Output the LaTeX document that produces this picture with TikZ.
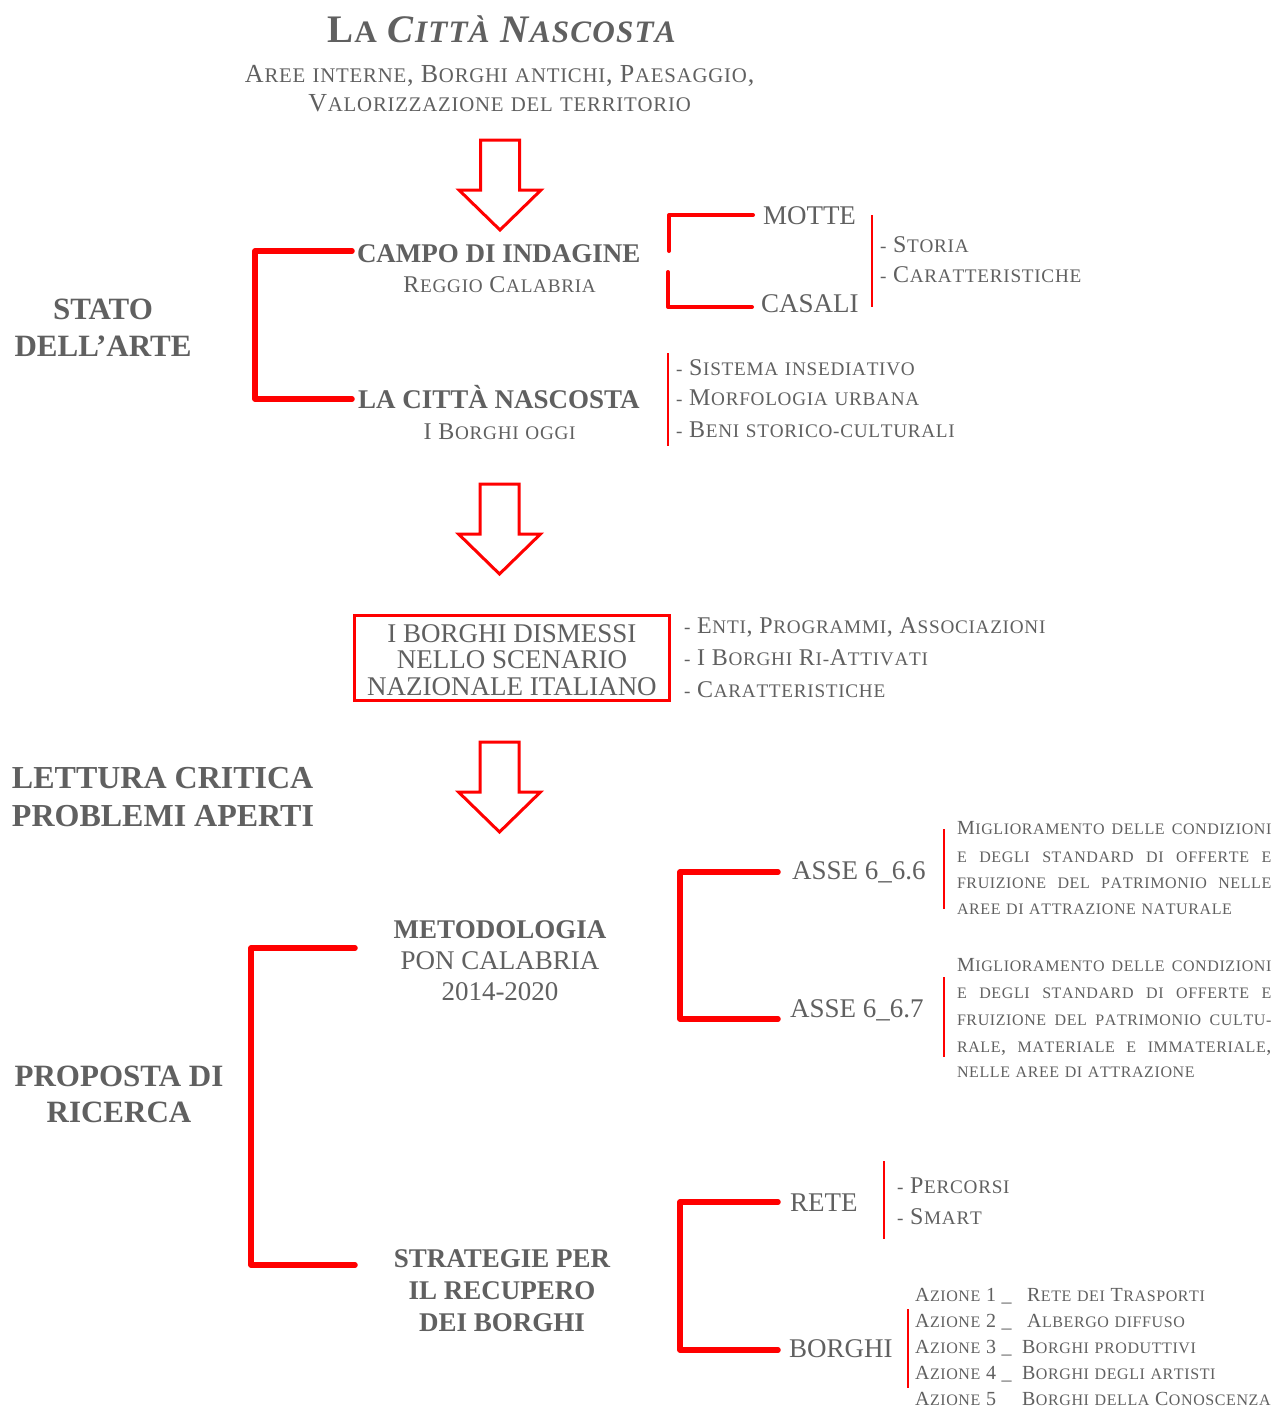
\documentclass[tikz,border=0pt]{standalone}
\usepackage{fontspec}
\setmainfont{Liberation Serif}
\definecolor{tg}{RGB}{96,96,96}
\definecolor{br}{RGB}{255,0,0}
\makeatletter
\def\fsc@end{FSC@END}
\newcommand\fsctrack{0.03em}
\newcommand\fsc[1]{\begingroup\edef\fsc@sz{\strip@pt\dimexpr\f@size pt*80/100\relax}\fsc@loop#1\fsc@end\endgroup}
\newcommand\fsc@loop{\futurelet\fsc@next\fsc@check}
\newcommand\fsc@check{\ifx\fsc@next\fsc@end\let\fsc@do\@gobble\else\ifx\fsc@next\@sptoken\let\fsc@do\fsc@space\else\let\fsc@do\fsc@char\fi\fi\fsc@do}
\@firstofone{\def\fsc@space} {\ \fsc@loop}
\newcommand\fsc@char[1]{\ifnum\lccode`#1=`#1\relax\ifnum\uccode`#1=`#1\relax#1\else{\fontsize{\fsc@sz}{\fsc@sz}\selectfont\uppercase{#1}}\fi\else#1\fi\kern\fsctrack\fsc@loop}
\makeatother
\tikzset{
 every node/.style={inner sep=0pt, outer sep=0pt, text=tg},
 boldhd/.style={font=\fontsize{27}{27}\selectfont\bfseries},
 bighd/.style={font=\fontsize{31}{31}\selectfont\bfseries},
 reghd/.style={font=\fontsize{27}{27}\selectfont},
 scm/.style={font=\fontsize{24}{24}\selectfont},
 scl/.style={font=\fontsize{26}{26}\selectfont},
 scs/.style={font=\fontsize{20}{20}\selectfont},
 bigbr/.style={draw=br, line width=5.5pt, line cap=round, line join=round},
 midbr/.style={draw=br, line width=4pt, line cap=round, line join=round},
 thinbr/.style={draw=br, line width=2.6pt},
 hollowline/.style={draw=br, line width=3pt, fill=white, line join=miter},
 hollow/.pic={\path[hollowline] (-19.5,0) -- (19.5,0) -- (19.5,50) -- (41,50) -- (0,90) -- (-41,50) -- (-19.5,50) -- cycle;},
}
\begin{document}
\begin{tikzpicture}[x=1pt,y=-1pt]
\useasboundingbox[fill=white] (0,0) rectangle (1277,1409);

% title
\node[anchor=base, font=\fontsize{39}{39}\selectfont\bfseries] (title) at (502,42) {\fsc{La} {\itshape\fsc{Città Nascosta}}};
\node[anchor=base, scl] (sub1) at (500,82) {\fsc{Aree interne, Borghi antichi, Paesaggio,}};
\node[anchor=base, scl] (sub2) at (500,111) {\fsc{Valorizzazione del territorio}};

% arrows
\pic (a1) at (500,140) {hollow};
\pic (a2) at (499.5,484) {hollow};
\pic (a3) at (499.5,742) {hollow};

% stato dell'arte
\node[anchor=base, bighd] (stato) at (103,319) {STATO};
\node[anchor=base, bighd] (arte) at (103,356) {DELL’ARTE};
\node[anchor=base west, boldhd] (campo) at (357,262) {CAMPO DI INDAGINE};
\node[anchor=base, scm] (reggio) at (500,292) {\fsc{Reggio Calabria}};
\node[anchor=base west, boldhd] (citta) at (358,408) {LA CITTÀ NASCOSTA};
\node[anchor=base, scm] (oggi) at (500,439) {\fsc{I Borghi oggi}};
\draw[bigbr] ([shift={(-5,-11)}]campo.base west) -- ++(-97,0) |- ([shift={(-6,-9)}]citta.base west);

% motte / casali
\node[anchor=base west, reghd] (motte) at (763,224) {MOTTE};
\node[anchor=base west, reghd] (casali) at (761,312) {CASALI};
\draw[midbr] ([shift={(-10,-9)}]motte.base west) -- ++(-84,0) -- ++(0,36);
\draw[midbr] ([shift={(-9,-5)}]casali.base west) -- ++(-84,0) -- ++(0,-35);
\draw[thinbr] (872,215) -- (872,307);
\node[anchor=base west, scm] (storia) at (880,252) {\fsc{- Storia}};
\node[anchor=base west, scm] (caratt1) at (880,282) {\fsc{- Caratteristiche}};

% citta list
\draw[thinbr] (668,353) -- (668,446);
\node[anchor=base west, scm] (sist) at (676,375) {\fsc{- Sistema insediativo}};
\node[anchor=base west, scm] (morf) at (676,405) {\fsc{- Morfologia urbana}};
\node[anchor=base west, scm] (beni) at (676,437) {\fsc{- Beni storico-culturali}};

% box
\node[draw=br, line width=3pt, minimum width=315, minimum height=85] (dismessi) at (511.5,657.5) {};
\node[anchor=base, reghd] (dis1) at (512,642) {I BORGHI DISMESSI};
\node[anchor=base, reghd] (dis2) at (512,668) {NELLO SCENARIO};
\node[anchor=base, reghd] (dis3) at (512,695) {NAZIONALE ITALIANO};
\node[anchor=base west, scm] (enti) at (684,633) {\fsc{- Enti, Programmi, Associazioni}};
\node[anchor=base west, scm] (riatt) at (684,665) {\fsc{- I Borghi Ri-Attivati}};
\node[anchor=base west, scm] (caratt2) at (684,697) {\fsc{- Caratteristiche}};

% lettura critica
\node[anchor=base west, font=\fontsize{32}{32}\selectfont\bfseries] (lettura) at (12,788) {LETTURA CRITICA};
\node[anchor=base west, font=\fontsize{32}{32}\selectfont\bfseries] (problemi) at (12,826) {PROBLEMI APERTI};

% proposta
\node[anchor=base, bighd] (proposta) at (119,1086) {PROPOSTA DI};
\node[anchor=base, bighd] (ricerca) at (119,1122) {RICERCA};
\node[anchor=base, boldhd] (metodo) at (500,938) {METODOLOGIA};
\node[anchor=base, reghd] (pon) at (500,969) {PON CALABRIA};
\node[anchor=base, reghd] (anni) at (500,1000) {2014-2020};
\node[anchor=base, boldhd] (strat1) at (502,1267) {STRATEGIE PER};
\node[anchor=base, boldhd] (strat2) at (502,1299) {IL RECUPERO};
\node[anchor=base, boldhd] (strat3) at (502,1331) {DEI BORGHI};
\coordinate (pt1) at (355,948);
\coordinate (pt2) at (355,1265);
\draw[bigbr] (pt1) -- ++(-104,0) |- (pt2);

% asse
\node[anchor=base west, reghd] (asse6) at (792,879) {ASSE 6\_6.6};
\node[anchor=base west, reghd] (asse7) at (790,1017) {ASSE 6\_6.7};
\draw[bigbr] ([shift={(-14,-7)}]asse6.base west) -- ++(-98,0) |- ([shift={(-12,2)}]asse7.base west);
\draw[thinbr] (944,829) -- (944,909);
\draw[thinbr] (944,977) -- (944,1057);
\node[anchor=base west, scs] (pa1) at (957,834) {\makebox[315pt][s]{\fsc{Miglioramento delle condizioni}}};
\node[anchor=base west, scs] (pa2) at (957,862) {\makebox[315pt][s]{\fsc{e degli standard di offerte e}}};
\node[anchor=base west, scs] (pa3) at (957,888) {\makebox[315pt][s]{\fsc{fruizione del patrimonio nelle}}};
\node[anchor=base west, scs] (pa4) at (957,914) {\fsc{aree di attrazione naturale}};
\node[anchor=base west, scs] (pb1) at (957,971) {\makebox[315pt][s]{\fsc{Miglioramento delle condizioni}}};
\node[anchor=base west, scs] (pb2) at (957,998) {\makebox[315pt][s]{\fsc{e degli standard di offerte e}}};
\node[anchor=base west, scs] (pb3) at (957,1025) {\makebox[315pt][s]{\fsc{fruizione del patrimonio cultu-}}};
\node[anchor=base west, scs] (pb4) at (957,1052) {\makebox[315pt][s]{\fsc{rale, materiale e immateriale,}}};
\node[anchor=base west, scs] (pb5) at (957,1077) {\fsc{nelle aree di attrazione}};

% rete / borghi
\node[anchor=base west, reghd] (rete) at (790,1211) {RETE};
\node[anchor=base west, reghd] (borghi) at (789,1357) {BORGHI};
\draw[bigbr] ([shift={(-12,-9)}]rete.base west) -- ++(-98,0) |- ([shift={(-11,-7)}]borghi.base west);
\draw[thinbr] (884,1161) -- (884,1239);
\node[anchor=base west, scm] (perc) at (897,1193) {\fsc{- Percorsi}};
\node[anchor=base west, scm] (smart) at (897,1224) {\fsc{- Smart}};
\draw[thinbr] (908,1309) -- (908,1388);
\node[anchor=base west, scs] (az1) at (915,1301) {\fsc{Azione 1} \_};
\node[anchor=base west, scs] (az2) at (915,1327) {\fsc{Azione 2} \_};
\node[anchor=base west, scs] (az3) at (915,1353) {\fsc{Azione 3} \_};
\node[anchor=base west, scs] (az4) at (915,1379) {\fsc{Azione 4} \_};
\node[anchor=base west, scs] (az5) at (915,1405) {\fsc{Azione 5}};
\node[anchor=base west, scs] (az1t) at (1027,1301) {\fsc{Rete dei Trasporti}};
\node[anchor=base west, scs] (az2t) at (1027,1327) {\fsc{Albergo diffuso}};
\node[anchor=base west, scs] (az3t) at (1022,1353) {\fsc{Borghi produttivi}};
\node[anchor=base west, scs] (az4t) at (1022,1379) {\fsc{Borghi degli artisti}};
\node[anchor=base west, scs] (az5t) at (1022,1405) {\fsc{Borghi della Conoscenza}};
\end{tikzpicture}
\end{document}
